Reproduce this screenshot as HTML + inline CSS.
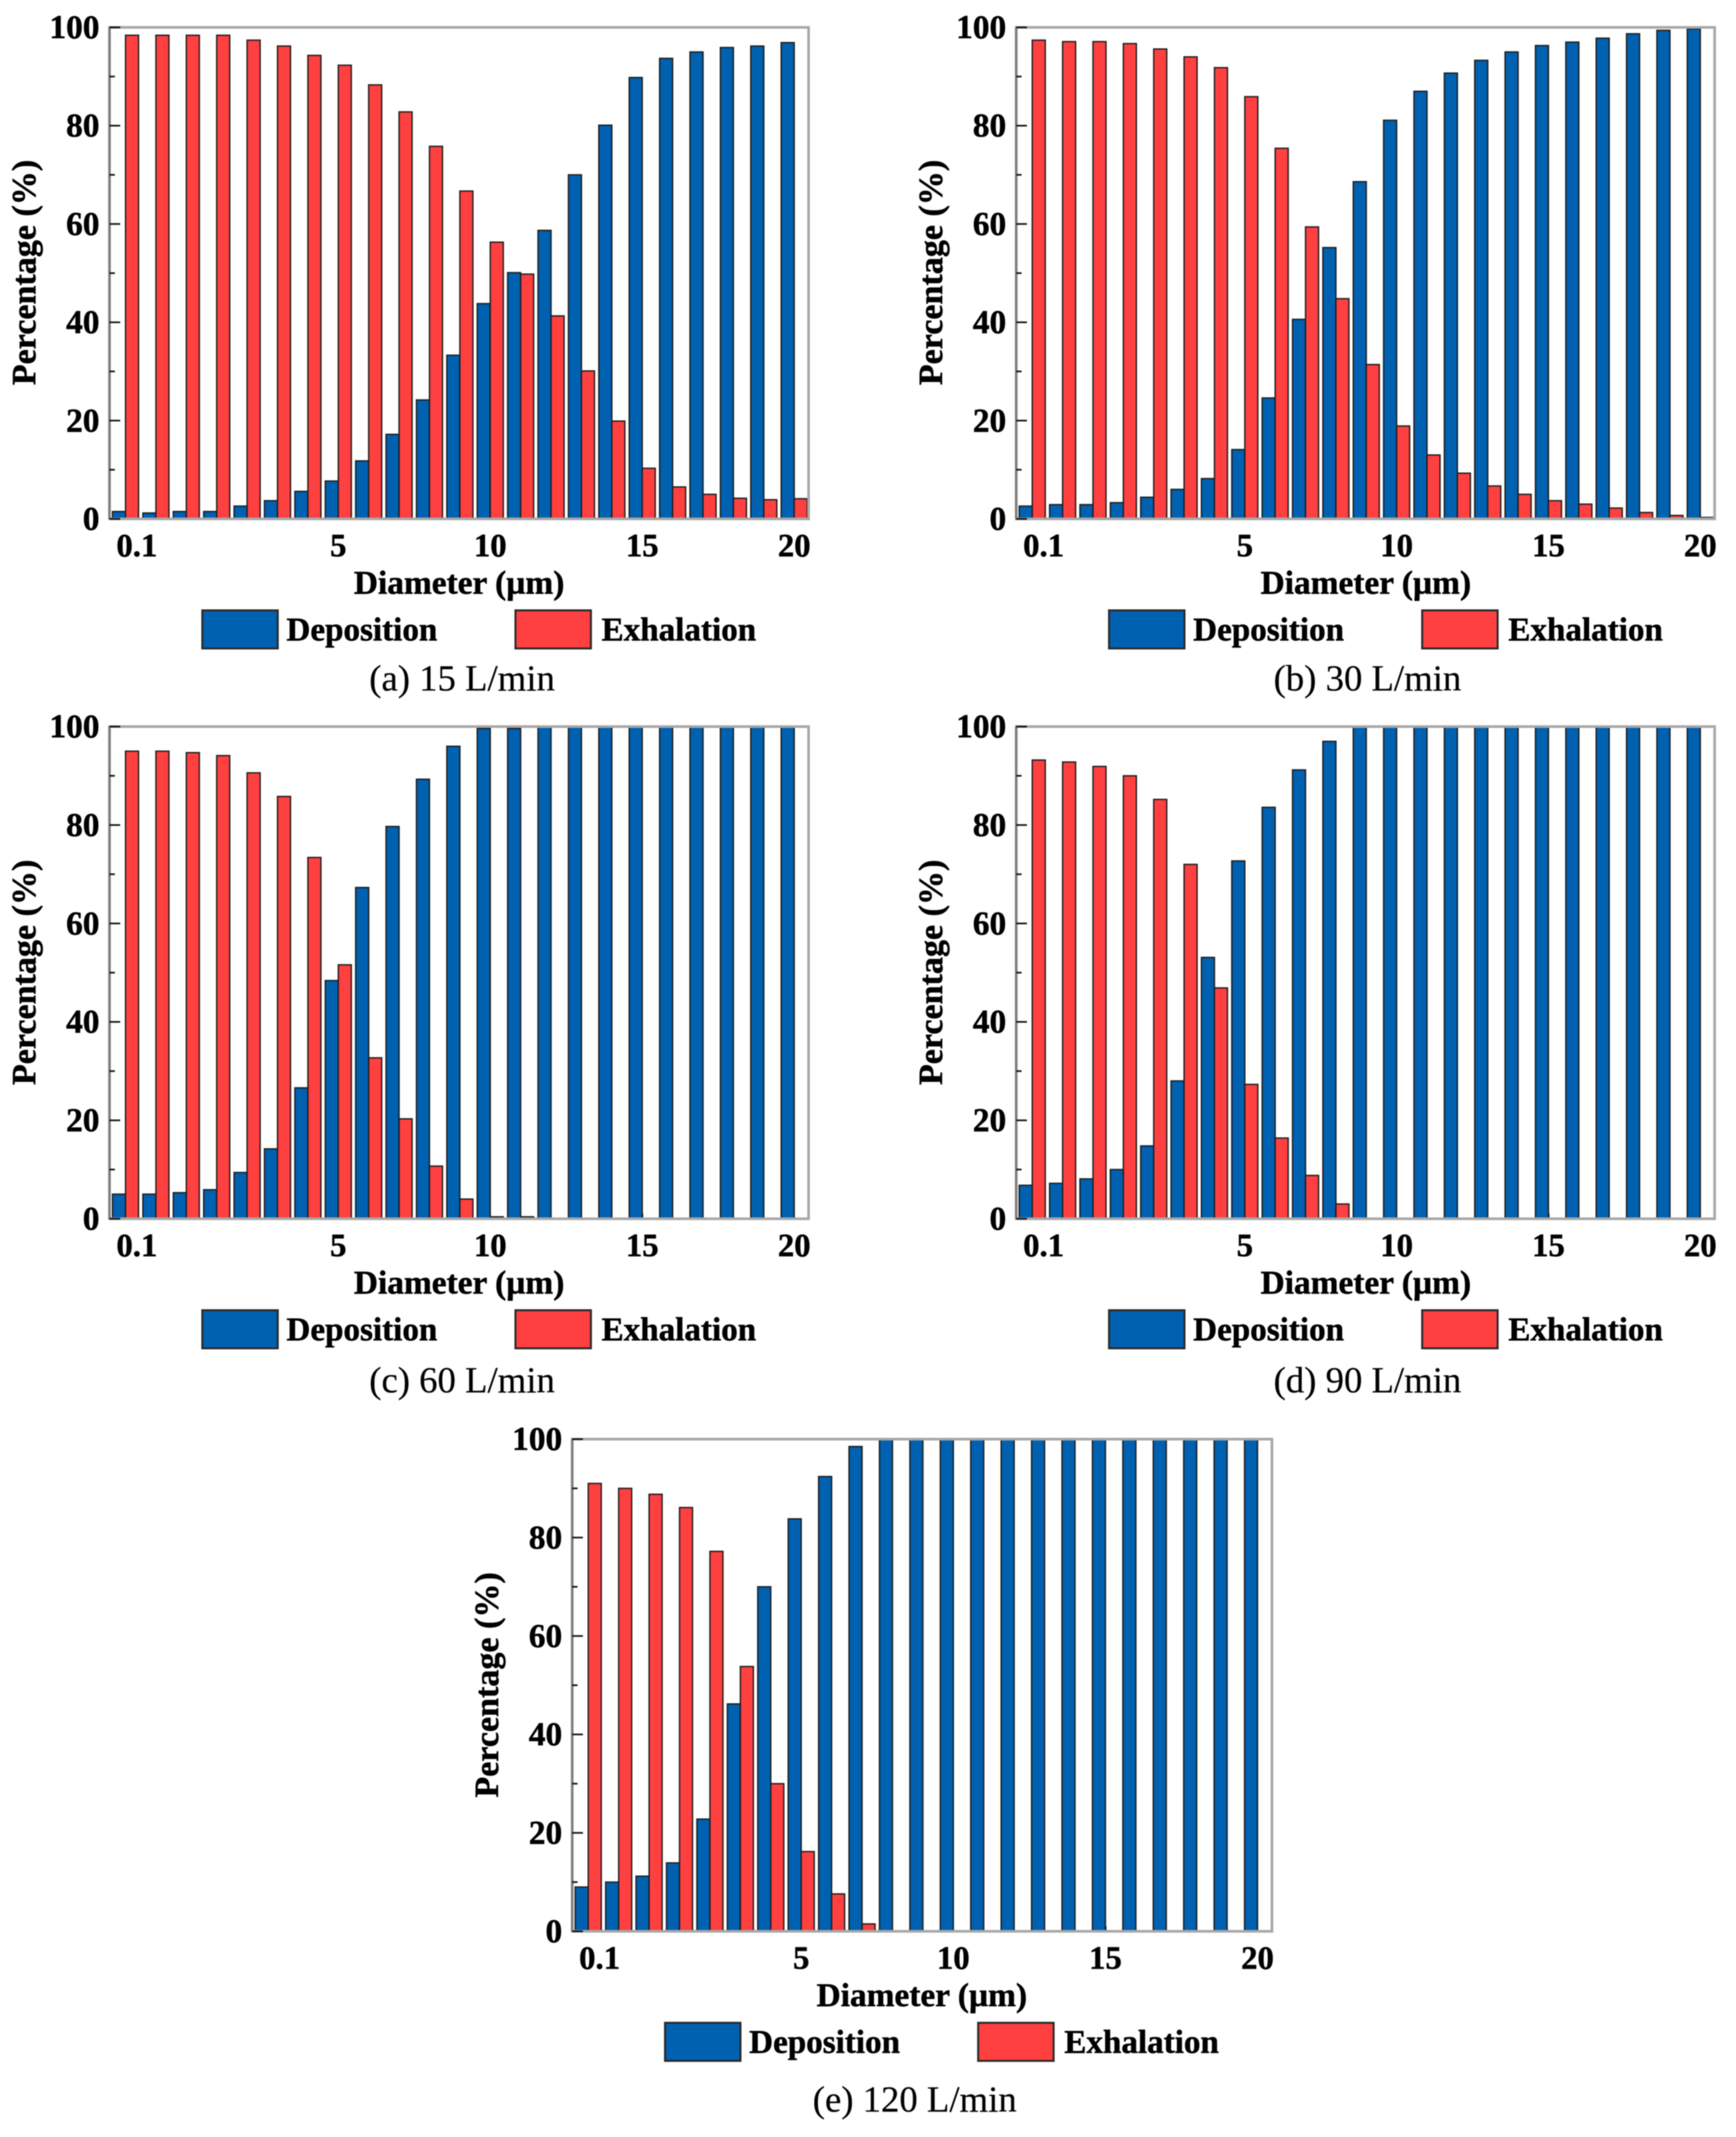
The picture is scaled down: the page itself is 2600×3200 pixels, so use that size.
<!DOCTYPE html>
<html lang="en">
<head>
<meta charset="utf-8">
<title>Deposition and exhalation percentage by particle diameter</title>
<style>
  html, body { margin: 0; padding: 0; background: #ffffff; }
  #figure { display: block; width: 2600px; height: 3200px; filter: blur(0.9px); }
  text { font-family: "Liberation Serif", serif; fill: #000000; stroke: #000000; stroke-width: 0.3; }
  .bold { font-weight: 700; stroke-width: 0.7; }
</style>
</head>
<body>
<svg id="figure" xmlns="http://www.w3.org/2000/svg" width="2600" height="3200" viewBox="0 0 2600 3200"></svg>
<script>
// ---- Data ----
const xCategories = ['0.1','0.3','0.5','1','2','3','4','5','6','7','8','9','10','11','12','13','14','15','16','17','18','19','20'];
const xTickLabels = ['0.1','5','10','15','20'];
const xVisibleTicks = ['3','15'];
const yTickLabels = [0,20,40,60,80,100];
const yMinorTicks = [10,30,50,70,90];
const seriesNames = ['Deposition','Exhalation'];

const deposition15 = [1.5,1.2,1.5,1.5,2.6,3.7,5.6,7.7,11.8,17.2,24.2,33.3,43.8,50.1,58.7,70,80.1,89.8,93.7,95,95.9,96.2,96.9];
const exhalation15 = [98.4,98.4,98.4,98.4,97.4,96.2,94.3,92.3,88.3,82.8,75.8,66.7,56.3,49.8,41.3,30.1,19.9,10.3,6.5,5,4.2,3.9,4.1];

const deposition30 = [2.6,2.9,2.9,3.3,4.4,6,8.2,14.1,24.6,40.6,55.2,68.6,81.1,87,90.7,93.3,95,96.3,97,97.8,98.7,99.4,99.7];
const exhalation30 = [97.4,97.1,97.1,96.7,95.6,94,91.8,85.9,75.4,59.4,44.8,31.4,18.9,13,9.3,6.7,5,3.7,3,2.2,1.3,0.7,0.3];

const deposition60 = [5,5,5.3,5.9,9.4,14.2,26.6,48.4,67.3,79.7,89.3,96,99.6,99.6,100,100,100,100,100,100,100,100,100];
const exhalation60 = [95,95,94.7,94.1,90.6,85.8,73.4,51.6,32.7,20.3,10.7,4,0.4,0.4,0,0,0,0,0,0,0,0,0];

const deposition90 = [6.8,7.2,8.1,10,14.8,28,53.1,72.7,83.6,91.2,97,100,100,100,100,100,100,100,100,100,100,100,100];
const exhalation90 = [93.2,92.8,91.9,90,85.2,72,46.9,27.3,16.4,8.8,3,0,0,0,0,0,0,0,0,0,0,0,0];

const deposition120 = [9,10,11.2,13.9,22.8,46.2,70,83.8,92.4,98.5,100,100,100,100,100,100,100,100,100,100,100,100,100];
const exhalation120 = [91,90,88.8,86.1,77.2,53.8,30,16.2,7.6,1.5,0,0,0,0,0,0,0,0,0,0,0,0,0];

// ---- Layout ----
const panels = [
  { id: 'a', caption: '(a) 15 L/min',  dep: deposition15,  exh: exhalation15,  left: 164,  right: 1211, top: 41,   bottom: 777,  capDx: 528, capDy: 257 },
  { id: 'b', caption: '(b) 30 L/min',  dep: deposition30,  exh: exhalation30,  left: 1522, right: 2568, top: 41,   bottom: 777,  capDx: 526, capDy: 257 },
  { id: 'c', caption: '(c) 60 L/min',  dep: deposition60,  exh: exhalation60,  left: 164,  right: 1211, top: 1088, bottom: 1825, capDx: 528, capDy: 260 },
  { id: 'd', caption: '(d) 90 L/min',  dep: deposition90,  exh: exhalation90,  left: 1522, right: 2568, top: 1088, bottom: 1825, capDx: 526, capDy: 260 },
  { id: 'e', caption: '(e) 120 L/min', dep: deposition120, exh: exhalation120, left: 857,  right: 1905, top: 2155, bottom: 2892, capDx: 513, capDy: 270 }
];

const BLUE = '#0061b1';
const RED = '#ff4040';
const EDGE = '#1c1c1c';
const SVG_NS = 'http://www.w3.org/2000/svg';
const root = document.getElementById('figure');

function make(tag, attrs, parent, content) {
  const node = document.createElementNS(SVG_NS, tag);
  for (const key in attrs) node.setAttribute(key, attrs[key]);
  if (content !== undefined) node.textContent = content;
  parent.appendChild(node);
  return node;
}

function drawPanel(p) {
  const band = (p.right - p.left) / xCategories.length;
  const xCenter = function (i) { return p.left + 24 + i * band; };
  const yScale = function (v) { return p.bottom - v * (p.bottom - p.top) / 100; };
  const barW = 19.5;

  const g = make('g', {}, root);
  
  

  // visible x tick stubs (the others are hidden behind bars)
  xVisibleTicks.forEach(function (text) {
    const cx = xCenter(xCategories.indexOf(text));
    const stub = make('line', { x1: cx, x2: cx, y1: p.bottom, y2: p.bottom - 8, stroke: '#000', 'stroke-width': 3 }, g);
    
    
  });

  // bars
  xCategories.forEach(function (cat, i) {
    const depTop = yScale(p.dep[i]);
    const depBar = make('rect', { x: xCenter(i) - barW, y: depTop, width: barW, height: p.bottom - depTop, fill: BLUE, stroke: EDGE, 'stroke-width': 2 }, g);
    
    

    const exhTop = yScale(p.exh[i]);
    const exhBar = make('rect', { x: xCenter(i), y: exhTop, width: barW, height: p.bottom - exhTop, fill: RED, stroke: EDGE, 'stroke-width': 2 }, g);
    
    
  });

  // frame
  const frame = make('rect', { x: p.left, y: p.top, width: p.right - p.left, height: p.bottom - p.top, fill: 'none', stroke: '#a8a8a8', 'stroke-width': 4 }, g);
  
  

  const yAxis = make('line', { x1: p.left, x2: p.left, y1: p.top, y2: p.bottom, stroke: '#808080', 'stroke-width': 4 }, g);
  
  

  // y ticks
  yTickLabels.forEach(function (v) {
    const tick = make('line', { x1: p.left, x2: p.left + 16, y1: yScale(v), y2: yScale(v), stroke: '#111', 'stroke-width': 2.5 }, g);
    
    

    const label = make('text', { x: p.left - 15, y: yScale(v) + 16, 'text-anchor': 'end', 'font-size': 50, class: 'bold' }, g, String(v));
    
    
  });
  yMinorTicks.forEach(function (v) {
    const tick = make('line', { x1: p.left, x2: p.left + 8, y1: yScale(v), y2: yScale(v), stroke: '#111', 'stroke-width': 2.5 }, g);
    
    
  });

  // x tick labels
  xTickLabels.forEach(function (text) {
    const i = xCategories.indexOf(text);
    const nudge = i === 0 ? 17 : 0;
    const label = make('text', { x: xCenter(i) + nudge, y: p.bottom + 56, 'text-anchor': 'middle', 'font-size': 49, class: 'bold' }, g, text);
    
    
  });

  // axis titles
  const xTitle = make('text', { x: p.left + 366, y: p.bottom + 112, 'font-size': 50, class: 'bold' }, g, 'Diameter (\u00b5m)');
  
  

  const yMid = p.bottom - 369;
  const yTitle = make('text', { x: p.left - 111, y: yMid, 'text-anchor': 'middle', 'font-size': 51, class: 'bold', transform: 'rotate(-90 ' + (p.left - 111) + ' ' + yMid + ')' }, g, 'Percentage (%)');
  
  

  // legend
  const boxTop = p.bottom + 137;
  const depSwatch = make('rect', { x: p.left + 139, y: boxTop, width: 113, height: 57, fill: BLUE, stroke: '#2a2a2a', 'stroke-width': 3 }, g);
  
  

  const depLabel = make('text', { x: p.left + 265, y: p.bottom + 182, 'font-size': 49.6, class: 'bold' }, g, seriesNames[0]);
  
  

  const exhSwatch = make('rect', { x: p.left + 608, y: boxTop, width: 113, height: 57, fill: RED, stroke: '#2a2a2a', 'stroke-width': 3 }, g);
  
  

  const exhLabel = make('text', { x: p.left + 737, y: p.bottom + 182, 'font-size': 49.6, class: 'bold' }, g, seriesNames[1]);
  
  

  // caption
  const cap = make('text', { x: p.left + p.capDx, y: p.bottom + p.capDy, 'text-anchor': 'middle', 'font-size': 55 }, g, p.caption);
  
  
}

panels.forEach(drawPanel);
</script>
</body>
</html>
